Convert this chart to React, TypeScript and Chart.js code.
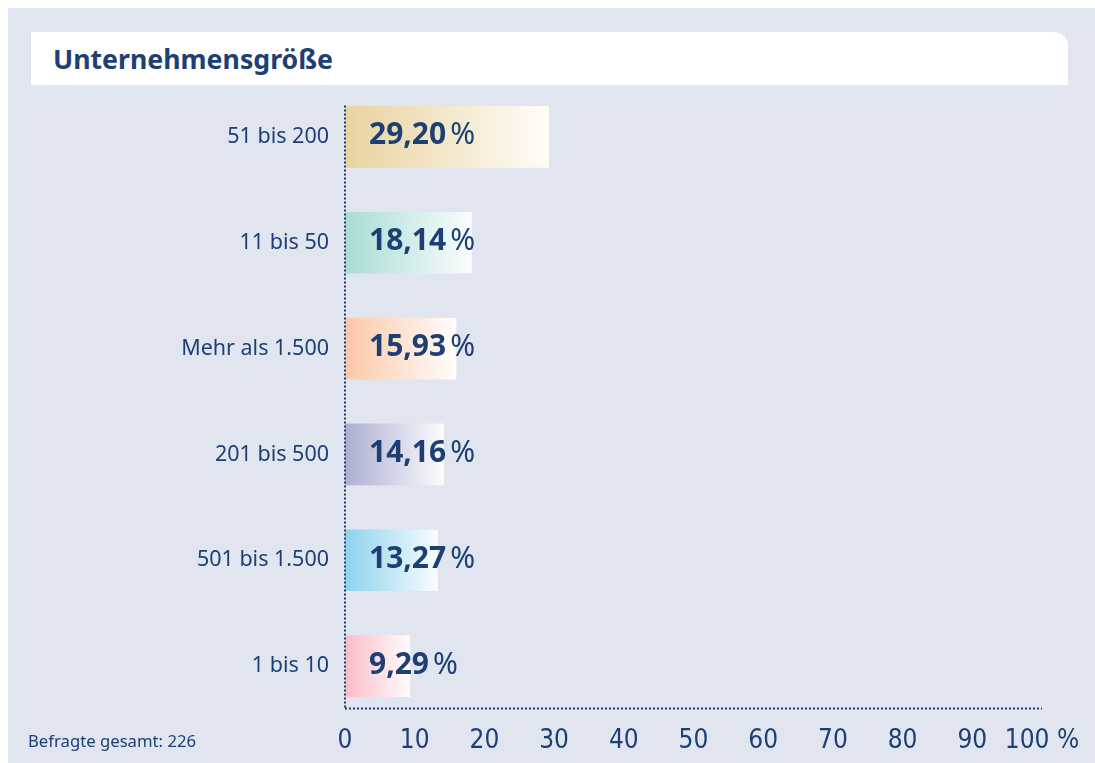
import React, { useEffect, useRef } from "react";
import { Chart, registerables } from "chart.js";

Chart.register(...registerables);

const categories = ["51 bis 200", "11 bis 50", "Mehr als 1.500", "201 bis 500", "501 bis 1.500", "1 bis 10"];
const values = [29.2, 18.14, 15.93, 14.16, 13.27, 9.29];
const barStartColors = ["#e8d3a0", "#a8dcd4", "#fcc8a8", "#adafd3", "#8dd2ee", "#fbbcc8"];
const barEndColors = ["#fffdf8", "#fbfdfd", "#fffdfb", "#fbfbfd", "#f8fcfe", "#fffbfb"];
const xTicks = [0, 10, 20, 30, 40, 50, 60, 70, 80, 90, 100];

const BLUE = "#1d3f73";
const FONT = "'Noto Sans', 'Open Sans', sans-serif";
const NARROW = "'Liberation Sans Narrow', 'DejaVu Sans Condensed', 'Noto Sans', sans-serif";

const overlayPlugin = {
  id: "overlay",
  afterDatasetsDraw(chart: any) {
    const { ctx, scales } = chart;
    const x = scales.x;
    const y = scales.y;
    const x0 = x.getPixelForValue(0);
    const x100 = x.getPixelForValue(100);
    const half = 30.5;
    const topY = y.getPixelForValue(0) - half - 1;
    const bottomY = y.getPixelForValue(categories.length - 1) + half + 12;

    ctx.save();
    ctx.strokeStyle = BLUE;
    ctx.lineWidth = 2;
    ctx.setLineDash([2, 2]);
    ctx.beginPath();
    ctx.moveTo(x0, topY);
    ctx.lineTo(x0, bottomY);
    ctx.moveTo(x0, bottomY);
    ctx.lineTo(x100, bottomY);
    ctx.stroke();
    ctx.setLineDash([]);

    ctx.fillStyle = BLUE;
    ctx.textBaseline = "middle";
    ctx.textAlign = "left";
    values.forEach((v, i) => {
      const cy = y.getPixelForValue(i) - 1;
      const num = v.toFixed(2).replace(".", ",");
      ctx.font = `bold 30px ${FONT}`;
      const tx = x0 + 24;
      ctx.fillText(num, tx, cy);
      const w = ctx.measureText(num).width;
      ctx.font = `30px ${FONT}`;
      ctx.fillText("%", tx + w + 4, cy);
    });
    ctx.restore();
  },
};

function ChartView() {
  const ref = useRef<HTMLCanvasElement | null>(null);
  useEffect(() => {
    if (!ref.current) return;
    const chart = new Chart(ref.current, {
      type: "bar",
      data: {
        labels: categories,
        datasets: [
          {
            data: values,
            barThickness: 61,
            borderWidth: 0,
            backgroundColor: (c: any) => {
              const ch = c.chart;
              const i = c.dataIndex;
              if (!ch.chartArea || !ch.scales.x || i === undefined) return barStartColors[i ?? 0];
              const xs = ch.scales.x;
              const a = xs.getPixelForValue(0);
              const b = xs.getPixelForValue(values[i]);
              const g = ch.ctx.createLinearGradient(a, 0, b, 0);
              g.addColorStop(0, barStartColors[i]);
              g.addColorStop(1, barEndColors[i]);
              return g;
            },
          },
        ],
      },
      options: {
        indexAxis: "y",
        animation: false,
        responsive: false,
        maintainAspectRatio: false,
        layout: { padding: { top: 76, right: 53, left: 0, bottom: 0 } },
        plugins: { legend: { display: false }, tooltip: { enabled: false } },
        scales: {
          x: {
            type: "linear",
            min: 0,
            max: 100,
            afterFit: (s: any) => {
              s.height = 44;
            },
            afterBuildTicks: (s: any) => {
              s.ticks = xTicks.map((v) => ({ value: v }));
            },
            grid: { display: false, drawTicks: false },
            border: { display: false },
            ticks: {
              color: BLUE,
              font: { family: NARROW, size: 26 },
              padding: 7,
              maxRotation: 0,
              autoSkip: false,
              callback: (v: any) => (Number(v) === 100 ? "100 %" : String(v)),
            },
          },
          y: {
            type: "category",
            afterFit: (s: any) => {
              s.width = 337;
            },
            grid: { display: false, drawTicks: false },
            border: { display: false },
            ticks: {
              color: BLUE,
              font: { family: FONT, size: 21.5 },
              padding: 16,
            },
          },
        },
      },
      plugins: [overlayPlugin],
    });
    return () => chart.destroy();
  }, []);
  return (
    <canvas
      ref={ref}
      width={1087}
      height={755}
      style={{ position: "absolute", left: 0, top: 0, width: 1087, height: 755 }}
    />
  );
}

export default function App() {
  return (
    <div
      style={{
        position: "absolute",
        left: 8,
        top: 8,
        width: 1087,
        height: 755,
        background: "#e1e5ef",
        overflow: "hidden",
      }}
    >
      <div
        style={{
          position: "absolute",
          left: 23,
          top: 24,
          width: 1037,
          height: 53,
          background: "#ffffff",
          borderTopRightRadius: 14,
        }}
      >
        <div
          style={{
            position: "absolute",
            left: 22,
            top: 0,
            height: 53,
            lineHeight: "53px",
            fontFamily: FONT,
            fontWeight: 700,
            fontSize: 26.7,
            color: BLUE,
            whiteSpace: "nowrap",
          }}
        >
          Unternehmensgröße
        </div>
      </div>
      <ChartView />
      <div
        style={{
          position: "absolute",
          left: 20,
          top: 721,
          fontFamily: FONT,
          fontSize: 16.7,
          color: BLUE,
          whiteSpace: "nowrap",
        }}
      >
        Befragte gesamt: 226
      </div>
    </div>
  );
}
